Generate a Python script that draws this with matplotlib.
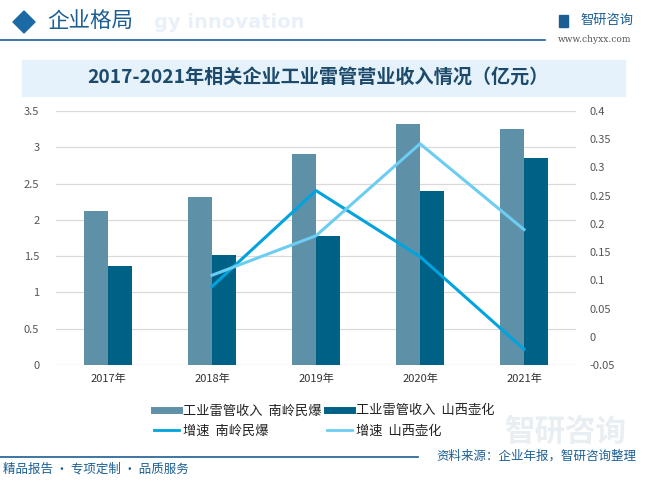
import matplotlib
matplotlib.use("Agg")
import matplotlib.pyplot as plt
import numpy as np
from matplotlib.patches import Rectangle, Polygon
from matplotlib.lines import Line2D

plt.rcParams['font.family'] = ['Noto Sans CJK SC', 'DejaVu Sans']

years = ["2017年", "2018年", "2019年", "2020年", "2021年"]
rev_nanling = [2.12, 2.31, 2.91, 3.32, 3.25]
rev_shanxi = [1.37, 1.52, 1.78, 2.40, 2.85]
growth_years = ["2018年", "2019年", "2020年", "2021年"]
growth_nanling = [0.089, 0.259, 0.142, -0.022]
growth_shanxi = [0.109, 0.179, 0.342, 0.190]
left_ticks = [0, 0.5, 1, 1.5, 2, 2.5, 3, 3.5]
right_ticks = [-0.05, 0, 0.05, 0.1, 0.15, 0.2, 0.25, 0.3, 0.35, 0.4]

c_bar1 = "#5e90a8"
c_bar2 = "#006186"
c_line1 = "#00a3dd"
c_line2 = "#6ccdf2"

fig = plt.figure(figsize=(6.6, 4.84), dpi=100)
W, H = 660, 484

def fx(x): return x / W
def fy(y): return 1 - y / H

# Header
fig.patches.append(Polygon([[fx(13), fy(22)], [fx(24), fy(11)], [fx(35), fy(22)], [fx(24), fy(33)]],
                           closed=True, transform=fig.transFigure, color="#1b6aa5"))
fig.text(fx(154), fy(22), "gy innovation", fontsize=14, color="#e8f1f9", fontweight="bold",
         ha="left", va="center", family="DejaVu Sans")
fig.text(fx(47), fy(21), "企业格局", fontsize=15.5, color="#1b5e93", ha="left", va="center")
fig.add_artist(Line2D([0, fx(545)], [fy(40), fy(40)], transform=fig.transFigure, color="#1b5e93", lw=1.2))
fig.patches.append(Rectangle((fx(559), fy(27)), fx(9), 12 / H, transform=fig.transFigure, color="#1b5e93"))
fig.text(fx(580), fy(20), "智研咨询", fontsize=9.5, color="#1b5e93", ha="left", va="center")
fig.text(fx(558), fy(40), "www.chyxx.com", fontsize=6.5, color="#555555", ha="left", va="center",
         family="DejaVu Serif")

# Title band
fig.patches.append(Rectangle((fx(22), fy(96)), fx(603), 36 / H, transform=fig.transFigure,
                             color="#e5f2fb", zorder=0))
fig.text(fx(318), fy(77), "2017-2021年相关企业工业雷管营业收入情况（亿元）", fontsize=13.8,
         color="#1d4a6b", fontweight="bold", ha="center", va="center")

# Watermark bottom right
fig.text(fx(565), fy(432), "智研咨询", fontsize=22, color="#dbe4ea", alpha=0.6, ha="center", va="center",
         fontweight="bold")

ax = fig.add_axes([fx(56), fy(365), fx(576) - fx(56), (365 - 111) / H])
x = np.arange(len(years))
bw = 0.235
ax.bar(x - bw / 2, rev_nanling, bw, color=c_bar1, zorder=2)
ax.bar(x + bw / 2, rev_shanxi, bw, color=c_bar2, zorder=2)
ax.set_xlim(-0.5, len(years) - 0.5)
ax.set_ylim(0, 3.5)
ax.set_yticks(left_ticks)
ax.set_yticklabels([("%g" % t) for t in left_ticks])
ax.set_xticks(x)
ax.set_xticklabels(years)
ax.grid(axis="y", color="#d9d9d9", lw=0.9, zorder=0)
ax.set_axisbelow(True)
for s in ax.spines.values():
    s.set_visible(False)
ax.tick_params(axis="both", length=0, labelsize=8, colors="#555555")
ax.tick_params(axis="y", pad=12)
ax.tick_params(axis="x", pad=6, colors="#333333")

ax2 = ax.twinx()
gx = [years.index(g) for g in growth_years]
ax2.plot(gx, growth_nanling, color=c_line1, lw=2.2, zorder=3)
ax2.plot(gx, growth_shanxi, color=c_line2, lw=2.2, zorder=3)
ax2.set_ylim(-0.05, 0.4)
ax2.set_yticks(right_ticks)
ax2.set_yticklabels([("%g" % t) for t in right_ticks])
for s in ax2.spines.values():
    s.set_visible(False)
ax2.tick_params(axis="y", length=0, labelsize=8, colors="#555555", pad=10)

handles = [
    Line2D([0], [0], color=c_bar1, lw=5),
    Line2D([0], [0], color=c_line1, lw=2),
    Line2D([0], [0], color=c_bar2, lw=5),
    Line2D([0], [0], color=c_line2, lw=2),
]
labels = ["工业雷管收入  南岭民爆", "增速  南岭民爆", "工业雷管收入  山西壶化", "增速  山西壶化"]
fig.legend(handles, labels, loc="center", bbox_to_anchor=(fx(324), fy(421)), ncol=2, frameon=False,
           fontsize=9.5, handlelength=1.9, handletextpad=0.3, columnspacing=0.4, labelspacing=0.55,
           labelcolor="#222222")

# Footer
fig.add_artist(Line2D([0, fx(418)], [fy(457), fy(457)], transform=fig.transFigure, color="#1b5e93", lw=1.2))
fig.text(fx(3), fy(469), "精品报告 · 专项定制 · 品质服务", fontsize=9, color="#1b5e93", ha="left", va="center")
fig.text(fx(436), fy(456), "资料来源：企业年报，智研咨询整理", fontsize=9, color="#1b5e93", ha="left", va="center")

fig.savefig("out.png", dpi=100)
